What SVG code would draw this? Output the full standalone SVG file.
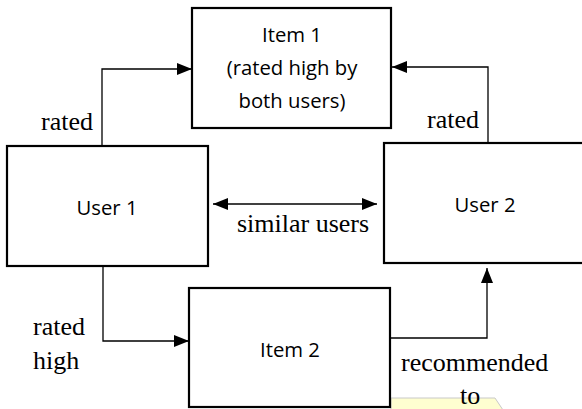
<svg xmlns="http://www.w3.org/2000/svg" width="582" height="409" viewBox="0 0 582 409">
<defs>
<style>
.box{fill:#fff;stroke:#000;stroke-width:2.2}
.sans{font-family:"Open Sans","Liberation Sans",sans-serif;font-size:20.3px;fill:#000;text-anchor:middle}
.serif{font-family:"Liberation Serif","Times New Roman",serif;font-size:26px;fill:#000}
.conn{fill:none;stroke:#000;stroke-width:1.3}
</style>
<marker id="ah" viewBox="0 0 15 12" refX="15" refY="6" markerWidth="15" markerHeight="12" markerUnits="userSpaceOnUse" orient="auto-start-reverse">
<path d="M0,0 L15,6 L0,12 Z" fill="#000"/>
</marker>
</defs>
<rect width="582" height="409" fill="#fff"/>
<polygon points="391,398 495,398 503,410 391,410" fill="#FEFED0" stroke="#C8C8C8" stroke-width="1"/>
<g id="item1">
<rect class="box" x="192" y="8" width="199" height="120"/>
<text class="sans" x="292" y="42">Item 1</text>
<text class="sans" x="292" y="75">(rated high by</text>
<text class="sans" x="292" y="108">both users)</text>
</g>
<g id="user1">
<rect class="box" x="7" y="146" width="201" height="120"/>
<text class="sans" x="107" y="215">User 1</text>
</g>
<g id="user2">
<rect class="box" x="384" y="143" width="210" height="120"/>
<text class="sans" x="485" y="212">User 2</text>
</g>
<g id="item2">
<rect class="box" x="189" y="288" width="201" height="119"/>
<text class="sans" x="290" y="357">Item 2</text>
</g>
<g id="connectors">
<path class="conn" d="M102,146 V69 H192" marker-end="url(#ah)"/>
<path class="conn" d="M488,143 V67 H392" marker-end="url(#ah)"/>
<path class="conn" d="M213,204 H377" marker-start="url(#ah)" marker-end="url(#ah)"/>
<path class="conn" d="M103,266 V341 H189" marker-end="url(#ah)"/>
<path class="conn" d="M390,338 H487 V268" marker-end="url(#ah)"/>
<text class="serif" x="41" y="130">rated</text>
<text class="serif" x="427" y="128">rated</text>
<text class="serif" x="237" y="232">similar users</text>
<text class="serif" x="33" y="335">rated</text>
<text class="serif" x="33" y="369">high</text>
<text class="serif" x="401" y="371">recommended</text>
<text class="serif" x="460" y="404">to</text>
</g>
</svg>
